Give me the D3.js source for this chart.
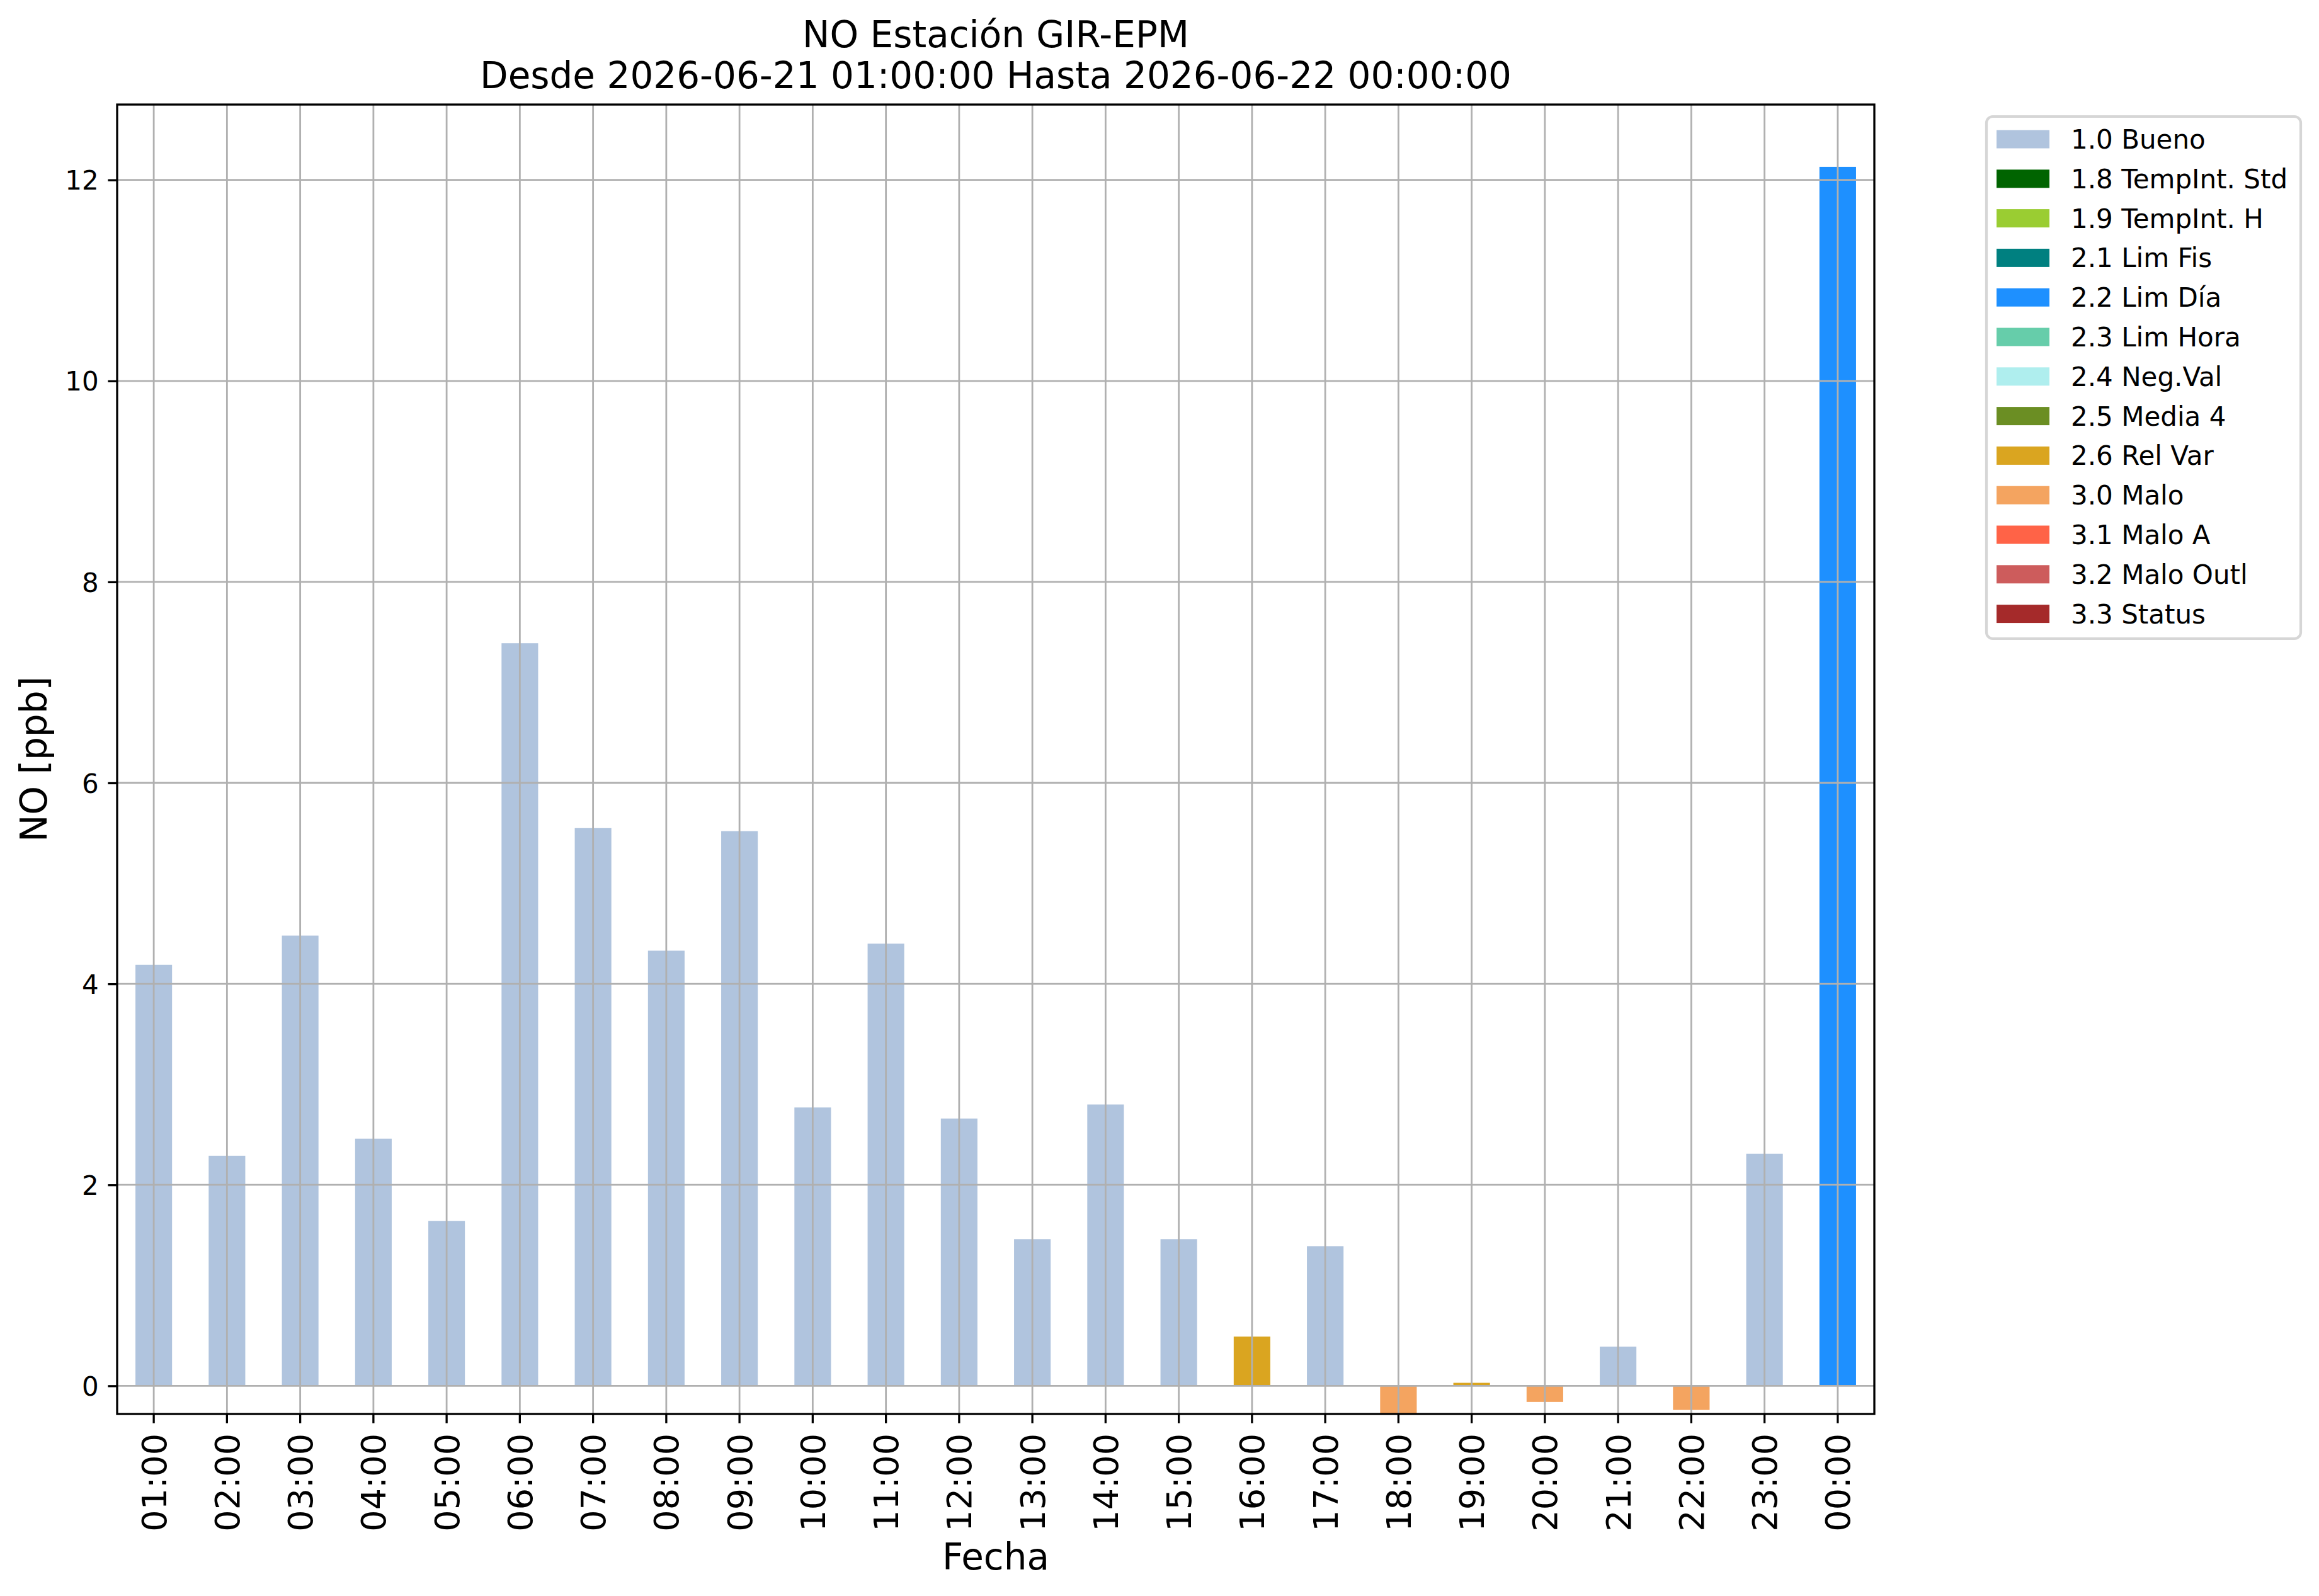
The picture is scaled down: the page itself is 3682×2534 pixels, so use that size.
<!DOCTYPE html>
<html>
<head>
<meta charset="utf-8">
<script src="https://cdn.jsdelivr.net/npm/d3@7"></script>
<style>
  body { margin: 0; background: white; }
  text { font-family: "DejaVu Sans", sans-serif; fill: black; }
</style>
</head>
<body>
<svg id="chart" width="3682" height="2534"></svg>
<script>
// hours on the x axis
var hours = ["01:00", "02:00", "03:00", "04:00", "05:00", "06:00", "07:00", "08:00",
             "09:00", "10:00", "11:00", "12:00", "13:00", "14:00", "15:00", "16:00",
             "17:00", "18:00", "19:00", "20:00", "21:00", "22:00", "23:00", "00:00"];

// NO concentration per hour [ppb]
var values = [4.19, 2.29, 4.48, 2.46, 1.64, 7.39, 5.55, 4.33,
              5.52, 2.77, 4.40, 2.66, 1.46, 2.80, 1.46, 0.49,
              1.39, -0.28, 0.03, -0.16, 0.39, -0.24, 2.31, 12.13];

// quality flag of each hour
var flags = ["1.0 Bueno", "1.0 Bueno", "1.0 Bueno", "1.0 Bueno", "1.0 Bueno", "1.0 Bueno",
             "1.0 Bueno", "1.0 Bueno", "1.0 Bueno", "1.0 Bueno", "1.0 Bueno", "1.0 Bueno",
             "1.0 Bueno", "1.0 Bueno", "1.0 Bueno", "2.6 Rel Var", "1.0 Bueno", "3.0 Malo",
             "2.6 Rel Var", "3.0 Malo", "1.0 Bueno", "3.0 Malo", "1.0 Bueno", "2.2 Lim Día"];

// legend entries and their colours
var legendLabels = ["1.0 Bueno", "1.8 TempInt. Std", "1.9 TempInt. H", "2.1 Lim Fis",
                    "2.2 Lim Día", "2.3 Lim Hora", "2.4 Neg.Val", "2.5 Media 4",
                    "2.6 Rel Var", "3.0 Malo", "3.1 Malo A", "3.2 Malo Outl", "3.3 Status"];
var legendColors = ["lightsteelblue", "darkgreen", "yellowgreen", "teal",
                    "dodgerblue", "mediumaquamarine", "paleturquoise", "olivedrab",
                    "goldenrod", "sandybrown", "tomato", "indianred", "brown"];

var yTicks = [0, 2, 4, 6, 8, 10, 12];
var yLimits = [-0.28, 12.75];

var titleLines = ["NO Estación GIR-EPM", "Desde 2026-06-21 01:00:00 Hasta 2026-06-22 00:00:00"];

// plot area (window.top is taken, so plot_* names)
var plot_left = 186, plot_right = 2976, plot_top = 166, plot_bottom = 2245;
var svg = d3.select('#chart');

svg.append('rect')
    .attr('width', 3682)
    .attr('height', 2534)
    .style('fill', 'white');

var x = d3.scaleBand()
    .domain(hours)
    .range([plot_left, plot_right])
    .paddingInner(0.5)
    .paddingOuter(0.25);

var y = d3.scaleLinear()
    .domain(yLimits)
    .range([plot_bottom, plot_top]);

var color = d3.scaleOrdinal()
    .domain(legendLabels)
    .range(legendColors);

// bars
svg.append('g')
    .selectAll('rect')
    .data(hours)
    .enter()
    .append('rect')
    .attr('x', function(h) { return x(h); })
    .attr('width', x.bandwidth())
    .attr('y', function(h, i) { return y(Math.max(0, values[i])); })
    .attr('height', function(h, i) { return Math.abs(y(values[i]) - y(0)); })
    .style('fill', function(h, i) { return color(flags[i]); });

// grid lines (drawn over the bars, as in the original)
var grid = svg.append('g').style('stroke', '#b0b0b0').style('stroke-width', 2.8);
grid.selectAll('line.gx')
    .data(hours)
    .enter()
    .append('line')
    .attr('x1', function(h) { return x(h) + x.bandwidth() / 2; })
    .attr('x2', function(h) { return x(h) + x.bandwidth() / 2; })
    .attr('y1', plot_top)
    .attr('y2', plot_bottom);
grid.selectAll('line.gy')
    .data(yTicks)
    .enter()
    .append('line')
    .attr('x1', plot_left)
    .attr('x2', plot_right)
    .attr('y1', function(v) { return y(v); })
    .attr('y2', function(v) { return y(v); });

// x axis
var xAxis = svg.append('g')
    .attr('transform', 'translate(0,' + plot_bottom + ')')
    .call(d3.axisBottom(x).tickSize(14.6).tickSizeOuter(0));
xAxis.select('.domain').remove();
xAxis.selectAll('.tick line').style('stroke', 'black').style('stroke-width', 3.3);
xAxis.selectAll('.tick text')
    .style('font-size', '54px')
    .attr('text-anchor', 'end')
    .attr('x', 0)
    .attr('y', 0)
    .attr('dy', '0.36em')
    .attr('transform', 'translate(0,31) rotate(-90)');

// y axis
var yAxis = svg.append('g')
    .attr('transform', 'translate(' + plot_left + ',0)')
    .call(d3.axisLeft(y).tickValues(yTicks).tickFormat(d3.format('d')).tickSize(14.6).tickPadding(14.6));
yAxis.select('.domain').remove();
yAxis.selectAll('.tick line').style('stroke', 'black').style('stroke-width', 3.3);
yAxis.selectAll('.tick text')
    .style('font-size', '42px')
    .attr('dy', '0.36em');

// frame round the plot
svg.append('rect')
    .attr('x', plot_left)
    .attr('y', plot_top)
    .attr('width', plot_right - plot_left)
    .attr('height', plot_bottom - plot_top)
    .style('fill', 'none')
    .style('stroke', 'black')
    .style('stroke-width', 3.3);

// title and axis labels
svg.append('text')
    .attr('text-anchor', 'middle')
    .style('font-size', '58px')
    .selectAll('tspan')
    .data(titleLines)
    .enter()
    .append('tspan')
    .attr('x', (plot_left + plot_right) / 2)
    .attr('y', function(d, i) { return 75 + i * 65; })
    .text(function(d) { return d; });

svg.append('text')
    .attr('x', (plot_left + plot_right) / 2)
    .attr('y', 2492)
    .attr('text-anchor', 'middle')
    .style('font-size', '58px')
    .text('Fecha');

svg.append('text')
    .attr('transform', 'translate(74,' + (plot_top + plot_bottom) / 2 + ') rotate(-90)')
    .attr('text-anchor', 'middle')
    .style('font-size', '58px')
    .text('NO [ppb]');

// legend
var legend = svg.append('g');
legend.append('rect')
    .attr('x', 3154)
    .attr('y', 185)
    .attr('width', 3653 - 3154)
    .attr('height', 1014 - 185)
    .attr('rx', 10)
    .style('fill', 'white')
    .style('stroke', '#d6d6d6')
    .style('stroke-width', 4.2);

var rows = legend.selectAll('g.row')
    .data(legendLabels)
    .enter()
    .append('g')
    .attr('transform', function(d, i) { return 'translate(3170,' + (221 + i * 62.8) + ')'; });
rows.append('rect')
    .attr('x', 0)
    .attr('y', -14.5)
    .attr('width', 84)
    .attr('height', 29)
    .style('fill', function(d) { return color(d); });
rows.append('text')
    .attr('x', 118)
    .attr('y', 15)
    .style('font-size', '42px')
    .text(function(d) { return d; });
</script>
</body>
</html>
